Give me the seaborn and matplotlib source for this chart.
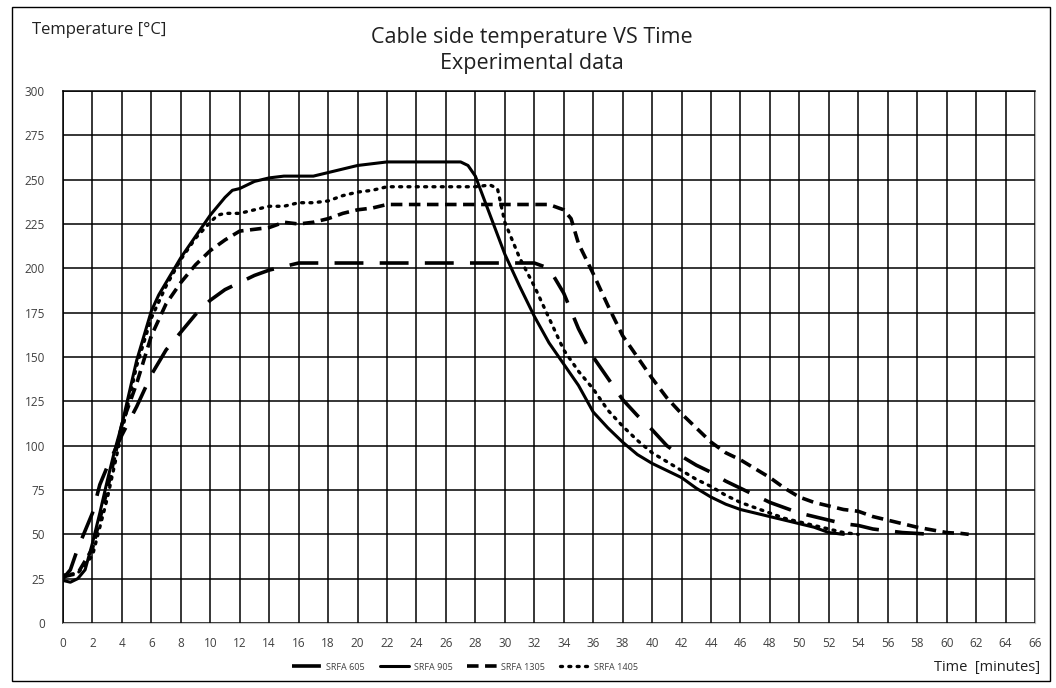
import matplotlib
matplotlib.use("Agg")
import matplotlib.pyplot as plt
from matplotlib.patches import Rectangle
import numpy as np
import pandas as pd
import seaborn as sbn


# -------------------------------------------------------------------------------------------------------
# data
# -------------------------------------------------------------------------------------------------------

series_names = ["SRFA 605", "SRFA 905", "SRFA 1305", "SRFA 1405"]

t_605 = [0, 0.5, 1, 1.5, 2, 2.5, 3, 4, 5, 6, 7, 8, 9, 10, 11, 12, 13, 14, 15, 16, 18, 20, 22, 24, 26, 28,
         30, 32, 33, 34, 35, 36, 37, 38, 39, 40, 41, 42, 43, 44, 45, 46, 47, 48, 49, 50, 51, 52, 53, 54,
         55, 56, 57, 58, 59]
T_605 = [25, 30, 42, 52, 62, 78, 88, 106, 122, 140, 154, 164, 174, 182, 188, 192, 196, 199, 201, 203, 203,
         203, 203, 203, 203, 203, 203, 203, 200, 186, 166, 150, 138, 126, 117, 109, 100, 94, 89, 85, 80, 76,
         72, 68, 65, 62, 60, 58, 56, 55, 53, 52, 51, 50.5, 50]

t_905 = [0, 0.5, 1, 1.5, 2, 2.5, 3, 3.5, 4, 4.5, 5, 5.5, 6, 6.5, 7, 7.5, 8, 9, 10, 11, 11.5, 12, 13, 14,
         15, 16, 17, 18, 19, 20, 21, 22, 23, 24, 25, 26, 27, 27.5, 28, 29, 30, 31, 32, 33, 34, 35, 36, 37,
         38, 39, 40, 41, 42, 43, 44, 45, 46, 47, 48, 49, 50, 51, 52, 53]
T_905 = [24, 23, 25, 30, 45, 62, 80, 97, 112, 130, 148, 162, 176, 185, 192, 199, 206, 218, 230, 240, 244,
         245, 249, 251, 252, 252, 252, 254, 256, 258, 259, 260, 260, 260, 260, 260, 260, 258, 252, 230,
         208, 190, 173, 158, 146, 134, 119, 110, 102, 95, 90, 86, 82, 76, 71, 67, 64, 62, 60, 58, 56, 54,
         51, 50]

t_1305 = [0, 1, 2, 3, 4, 5, 6, 7, 8, 9, 10, 11, 12, 13, 14, 15, 16, 17, 18, 19, 20, 21, 22, 24, 26, 28, 30,
          32, 33, 34, 34.5, 35, 36, 37, 38, 39, 40, 41, 42, 43, 44, 45, 46, 47, 48, 49, 50, 51, 52, 53, 54,
          55, 56, 57, 58, 59, 60, 61, 61.5]
T_1305 = [26, 28, 42, 75, 112, 135, 162, 180, 192, 202, 210, 216, 221, 222, 223, 226, 225, 226, 228, 231,
          233, 234, 236, 236, 236, 236, 236, 236, 236, 233, 228, 214, 197, 179, 162, 150, 138, 127, 118,
          110, 102, 96, 92, 87, 82, 76, 71, 68, 66, 64, 63, 60, 58, 56, 54, 52.5, 51, 50.5, 50]

t_1405 = [0, 1, 2, 3, 4, 5, 6, 7, 8, 9, 10, 10.5, 11, 12, 13, 14, 15, 16, 17, 18, 19, 20, 21, 22, 24, 26,
          28, 29, 29.5, 30, 31, 32, 33, 34, 35, 36, 37, 38, 39, 40, 41, 42, 43, 44, 45, 46, 47, 48, 49, 50,
          51, 52, 53, 54]
T_1405 = [27, 28, 38, 70, 108, 145, 172, 190, 205, 217, 226, 230, 231, 231, 233, 235, 235, 237, 237, 238,
          241, 243, 244, 246, 246, 246, 246, 247, 245, 226, 206, 190, 172, 154, 142, 132, 120, 111, 103, 96,
          91, 86, 81, 77, 72, 68, 65, 62, 59, 57, 55, 53, 51, 50]

x_ticks = list(range(0, 67, 2))
y_ticks = list(range(0, 301, 25))


# -------------------------------------------------------------------------------------------------------
# plot
# -------------------------------------------------------------------------------------------------------

plt.rcParams["font.family"] = ["Open Sans", "DejaVu Sans"]

fig = plt.figure(figsize=(10.56, 6.88), dpi=100)
ax = fig.add_axes([63 / 1056, 1 - 623 / 688, (1035 - 63) / 1056, (623 - 91) / 688])

times = [t_605, t_905, t_1305, t_1405]
temps = [T_605, T_905, T_1305, T_1405]
styles = [(0, (8, 4.5)), "-", (0, (3.2, 1.8)), (0, (0.6, 1.9))]
widths = [2.6, 2.2, 2.6, 2.4]
caps = ["butt", "round", "butt", "round"]

for name, t, T, ls, lw, cap in zip(series_names, times, temps, styles, widths, caps):
    df = pd.DataFrame({"time": t, "temp": T})
    sbn.lineplot(data=df, x="time", y="temp", ax=ax, color="black", linestyle=ls, linewidth=lw,
                 label=name, sort=False, estimator=None, dash_capstyle=cap, solid_capstyle="round")

ax.set_xlim(0, 66)
ax.set_ylim(0, 300)
ax.set_xticks(x_ticks)
ax.set_yticks(y_ticks)
ax.grid(True, which="major", color="black", linewidth=1.1)
ax.set_axisbelow(True)
ax.tick_params(axis="both", length=0, labelsize=8.5, colors="#404040")
ax.tick_params(axis="x", pad=10)
ax.tick_params(axis="y", pad=13)
ax.set_xlabel("")
ax.set_ylabel("")

for side in ["top", "left"]:
    ax.spines[side].set_color("black")
    ax.spines[side].set_linewidth(1.1)
ax.spines["bottom"].set_color("#c8c8c8")
ax.spines["right"].set_color("#b0b0b0")

ax.legend(loc="center left", bbox_to_anchor=(284 / 1056, 21 / 688), bbox_transform=fig.transFigure,
          ncol=4, frameon=False, fontsize=6.5, handlelength=3.3, columnspacing=1.6, handletextpad=0.5,
          labelcolor="#404040")

fig.text(532 / 1056, 1 - 38 / 688, "Cable side temperature VS Time", ha="center", va="center",
         fontsize=15.5, color="#202020")
fig.text(532 / 1056, 1 - 64 / 688, "Experimental data", ha="center", va="center",
         fontsize=15.5, color="#202020")
fig.text(32 / 1056, 1 - 30 / 688, "Temperature [°C]", ha="left", va="center", fontsize=12,
         color="#202020")
fig.text(1040 / 1056, 1 - 667 / 688, "Time  [minutes]", ha="right", va="center", fontsize=10.5,
         color="#202020")

fig.patches.append(Rectangle((12 / 1056, 1 - 681 / 688), (1050 - 12) / 1056, (681 - 7) / 688,
                             transform=fig.transFigure, fill=False, edgecolor="black", linewidth=1.0))

fig.savefig("out.png", dpi=100)
